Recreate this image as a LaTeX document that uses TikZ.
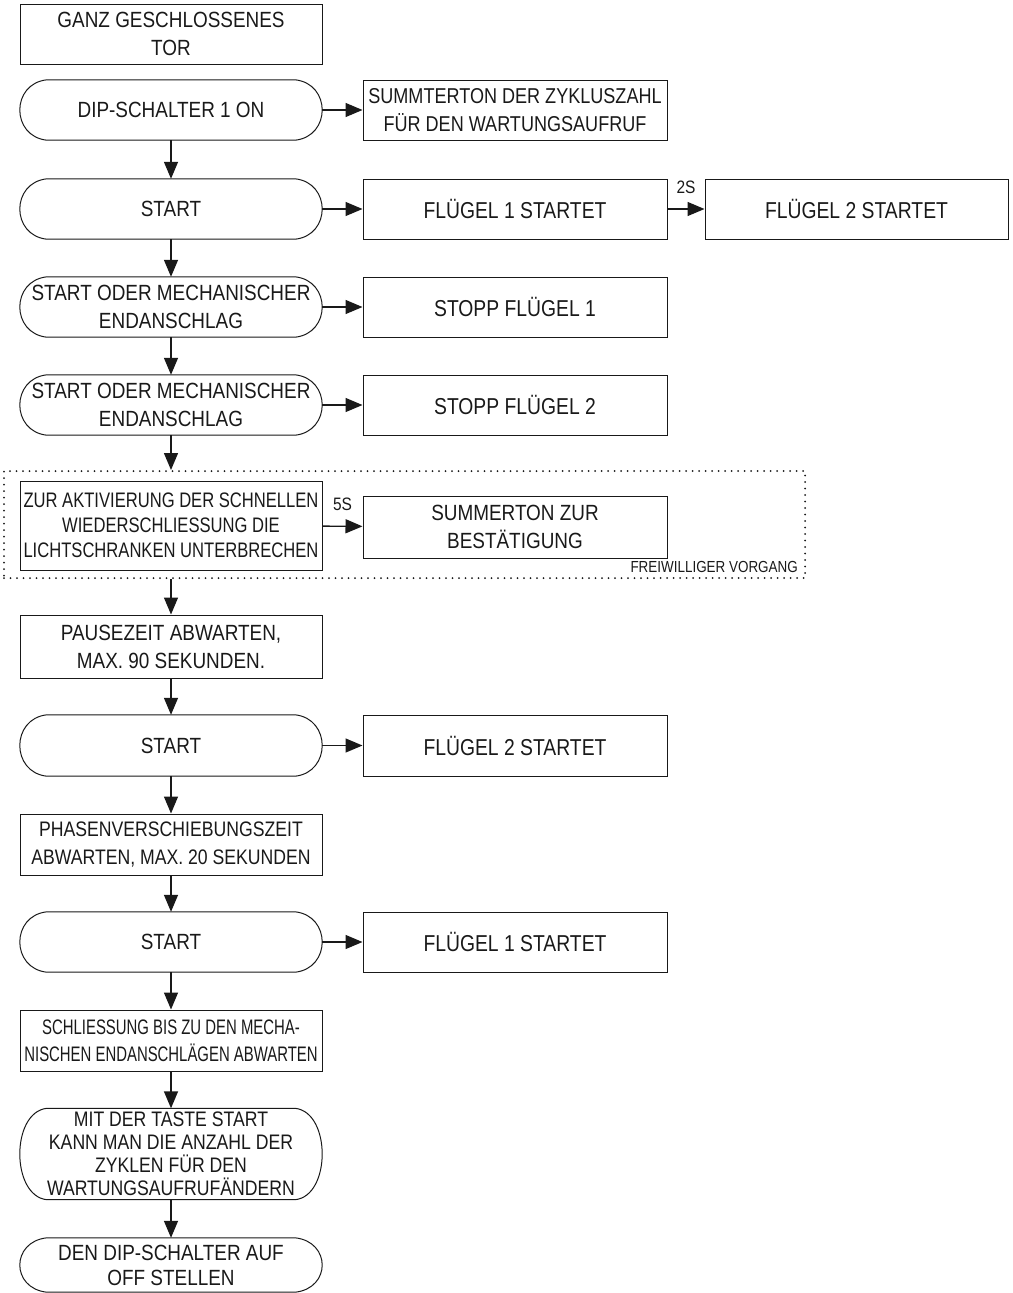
\documentclass[tikz,border=0pt]{standalone}
\usepackage{fontspec}
\setmainfont{Liberation Sans}[FakeStretch=0.86]
\newfontfamily\narrowfont{Liberation Sans}[FakeStretch=0.84]
\newfontfamily\narrowerfont{Liberation Sans}[FakeStretch=0.79]
\newfontfamily\narrowestfont{Liberation Sans}[FakeStretch=0.71]
\usetikzlibrary{arrows.meta}

\begin{document}
\begin{tikzpicture}[x=1pt,y=-1pt, > = {Triangle[length=17pt,width=14pt]},
    every node/.style={font=\fontsize{22}{28}\selectfont, text=black!90},
    box/.style={draw=black!90, line width=1pt, minimum width=302pt, minimum height=60pt, inner sep=0pt, align=center},
    wbox/.style={box, minimum width=304pt, font=\narrowfont\fontsize{23}{28}\selectfont},
    term/.style={minimum width=302pt, minimum height=60pt, inner sep=0pt, align=center},
    lbl/.style={font=\fontsize{18}{20}\selectfont, inner sep=0pt},
    conn/.style={->, line width=1.4pt, black!90}]
            \useasboundingbox (0,0) rectangle (1012,1293);
            \node[box] (tor) at (171,34) {GANZ GESCHLOSSENES\\TOR};
            \node[term] (dip) at (171,110) {DIP-SCHALTER 1 ON};
            \node[box, minimum width=304pt, font=\narrowfont\fontsize{21.5}{28}\selectfont] (zyklus) at (515,110) {SUMMTERTON DER ZYKLUSZAHL\\FÜR DEN WARTUNGSAUFRUF};
            \node[term] (startA) at (171,209) {START};
            \node[wbox] (fluegelA) at (515,209) {FLÜGEL 1 STARTET};
            \node[wbox, minimum width=303pt] (fluegelB) at (856.5,209) {FLÜGEL 2 STARTET};
            \node[term] (endA) at (171,307) {START ODER MECHANISCHER\\ENDANSCHLAG};
            \node[wbox] (stoppA) at (515,307) {STOPP FLÜGEL 1};
            \node[term] (endB) at (171,405) {START ODER MECHANISCHER\\ENDANSCHLAG};
            \node[wbox] (stoppB) at (515,405) {STOPP FLÜGEL 2};
            \node[draw=black!90, line width=2pt, line cap=round, dash pattern=on 0pt off 6.5pt, minimum width=801pt, minimum height=107pt, inner sep=0pt] (frei) at (404.5,524.5) {};
            \node[box, minimum height=89pt, font=\narrowerfont\fontsize{21}{25}\selectfont] (licht) at (171,525.5) {ZUR AKTIVIERUNG DER SCHNELLEN\\WIEDERSCHLIESSUNG DIE\\LICHTSCHRANKEN UNTERBRECHEN};
            \node[box, minimum width=304pt, minimum height=62pt] (bestaet) at (515,527) {SUMMERTON ZUR\\BESTÄTIGUNG};
            \node[lbl, font=\narrowfont\fontsize{16}{18}\selectfont, anchor=base east] (vorgang) at (798,572) {FREIWILLIGER VORGANG};
            \node[box, minimum height=63pt] (pause) at (171,646.5) {PAUSEZEIT ABWARTEN,\\MAX. 90 SEKUNDEN.};
            \node[term, minimum height=61pt] (startB) at (171,745.5) {START};
            \node[wbox, minimum height=61pt] (fluegelC) at (515,745.5) {FLÜGEL 2 STARTET};
            \node[box, minimum height=61pt, font=\narrowfont\fontsize{21}{28}\selectfont] (phase) at (171,844.5) {PHASENVERSCHIEBUNGSZEIT\\ABWARTEN, MAX. 20 SEKUNDEN};
            \node[term] (startC) at (171,942) {START};
            \node[wbox] (fluegelD) at (515,942) {FLÜGEL 1 STARTET};
            \node[box, minimum height=61pt, font=\narrowestfont\fontsize{21}{27}\selectfont] (schliess) at (171,1040.5) {SCHLIESSUNG BIS ZU DEN MECHA-\\NISCHEN ENDANSCHLÄGEN ABWARTEN};
            \node[term, minimum height=91pt, font=\narrowfont\fontsize{21}{23}\selectfont] (taste) at (171,1154) {MIT DER TASTE START\\KANN MAN DIE ANZAHL DER\\ZYKLEN FÜR DEN\\WARTUNGSAUFRUFÄNDERN};
            \node[term, minimum height=54pt, font=\fontsize{22}{25}\selectfont] (off) at (171,1265) {DEN DIP-SCHALTER AUF\\OFF STELLEN};
            \foreach \t in {dip,startA,endA,endB,startB,startC,taste,off}
                \draw[line width=1pt, black!90] ([xshift=27pt]\t.north west) -- ([xshift=-27pt]\t.north east)
                    .. controls ([xshift=9pt,yshift=-4pt]\t.north east) and ([xshift=9pt,yshift=4pt]\t.south east) .. ([xshift=-27pt]\t.south east)
                    -- ([xshift=27pt]\t.south west)
                    .. controls ([xshift=-9pt,yshift=4pt]\t.south west) and ([xshift=-9pt,yshift=-4pt]\t.north west) .. cycle;
            \draw[conn] (dip) -- (zyklus);
            \draw[conn] (dip) -- (startA);
            \draw[conn] (startA) -- (fluegelA);
            \draw[conn] (fluegelA) -- node[lbl, above=15pt] (zweiS) {2S} (fluegelB);
            \draw[conn] (startA) -- (endA);
            \draw[conn] (endA) -- (stoppA);
            \draw[conn] (endA) -- (endB);
            \draw[conn] (endB) -- (stoppB);
            \draw[conn] (endB) -- (endB |- frei.north);
            \draw[conn] (licht) -- node[lbl, above=15pt] (fuenfS) {5S} (bestaet);
            \draw[conn] (frei.south -| pause) -- (pause);
            \draw[conn] (pause) -- (startB);
            \draw[conn] (startB) -- (fluegelC);
            \draw[conn] (startB) -- (phase);
            \draw[conn] (phase) -- (startC);
            \draw[conn] (startC) -- (fluegelD);
            \draw[conn] (startC) -- (schliess);
            \draw[conn] (schliess) -- (taste);
            \draw[conn] (taste) -- (off);
        \end{tikzpicture}
\end{document}
